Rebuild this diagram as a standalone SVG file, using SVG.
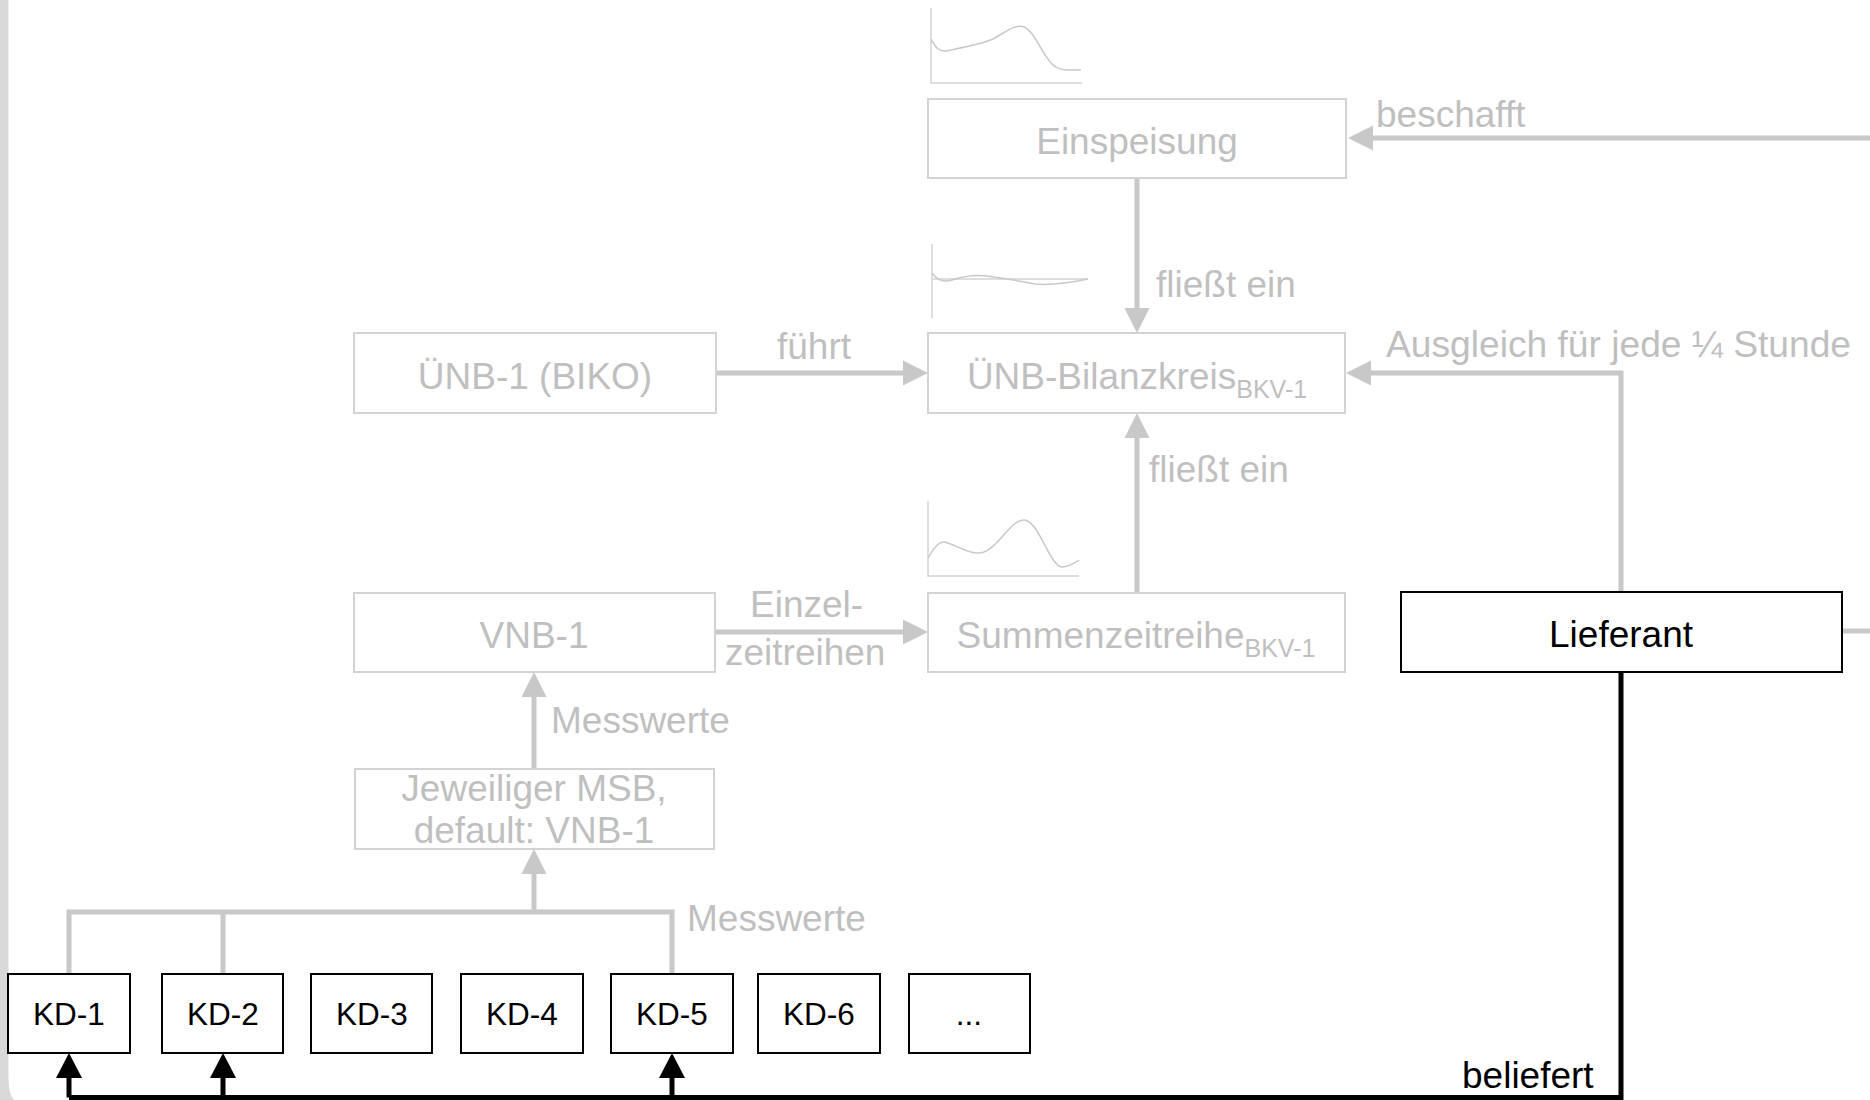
<svg xmlns="http://www.w3.org/2000/svg" width="1870" height="1100" viewBox="0 0 1870 1100">
  <style>
    text { font-family: "Liberation Sans", Arial, Helvetica, sans-serif; font-size: 37px; }
    .g { fill: #bfbfbf; }
    .k { fill: #000000; }
    .mid { text-anchor: middle; }
    .kd { font-size: 31.5px; }
    .sub { font-size: 25px; }
    .box-g { fill: #ffffff; stroke: #d3d3d3; stroke-width: 2; }
    .box-k { fill: #ffffff; stroke: #000000; stroke-width: 2; }
    .ln-g { fill: none; stroke: #c8c8c8; stroke-width: 5; }
    .ln-k { fill: none; stroke: #000000; stroke-width: 5; }
    .axis { fill: none; stroke: #d3d3d3; stroke-width: 1.5; }
    .curve { fill: none; stroke: #c8c8c8; stroke-width: 1.5; }
  </style>
  <defs>
    <marker id="arrow-g" markerUnits="userSpaceOnUse" markerWidth="26" markerHeight="26" refX="0" refY="12.5" orient="auto" overflow="visible">
      <path d="M0,0 L25,12.5 L0,25 Z" fill="#c8c8c8"/>
    </marker>
    <marker id="arrow-k" markerUnits="userSpaceOnUse" markerWidth="27" markerHeight="27" refX="0" refY="13" orient="auto" overflow="visible">
      <path d="M0,0 L25,13 L0,26 Z" fill="#000000"/>
    </marker>
  </defs>

  <!-- frame edge on the left -->
  <path d="M0,0 H8.5 V1076 C8.5,1088 10,1096 14,1100 H0 Z" fill="#d9d9d9"/>

  <!-- small load curves -->
  <g id="chart-einspeisung">
    <path class="axis" d="M931,8 V83 H1082"/>
    <path class="curve" d="M931,39 C935,46 938,52 946,51 C960,48 982,44 993,39 C1006,32 1014,24 1024,27 C1036,32 1045,62 1056,67 C1062,71 1070,70 1081,70"/>
  </g>
  <g id="chart-bilanzkreis">
    <path class="axis" d="M932,244 V318"/>
    <path class="axis" d="M932,279 H1088"/>
    <path class="curve" d="M932,273 Q940,284 952,280 Q970,274 987,276 Q1010,279 1035,284 Q1055,286 1088,279"/>
  </g>
  <g id="chart-summe">
    <path class="axis" d="M928,501 V576 H1079"/>
    <path class="curve" d="M928,558 C935,545 940,541 945,542 C958,546 972,556 984,552 C998,548 1012,518 1025,520 C1040,523 1050,568 1063,567 C1070,566 1075,563 1079,560"/>
  </g>

  <!-- connectors -->
  <g id="connectors">
    <path class="ln-g" d="M1870,138 H1373" marker-end="url(#arrow-g)"/>
    <path class="ln-g" d="M1137,178 V308" marker-end="url(#arrow-g)"/>
    <path class="ln-g" d="M716,373 H903" marker-end="url(#arrow-g)"/>
    <path class="ln-g" d="M1621,592 V373 H1371" marker-end="url(#arrow-g)"/>
    <path class="ln-g" d="M1137,593 V438" marker-end="url(#arrow-g)"/>
    <path class="ln-g" d="M715,632 H903" marker-end="url(#arrow-g)"/>
    <path class="ln-g" d="M1842,631 H1870"/>
    <path class="ln-g" d="M534,769 V697" marker-end="url(#arrow-g)"/>
    <path class="ln-g" d="M69,974 V912 H672 V974"/>
    <path class="ln-g" d="M223,974 V912"/>
    <path class="ln-g" d="M534,912 V874" marker-end="url(#arrow-g)"/>

    <path class="ln-k" d="M1621,672 V1097.5 H69"/>
    <path class="ln-k" d="M69,1097.5 V1078" marker-end="url(#arrow-k)"/>
    <path class="ln-k" d="M223,1097.5 V1078" marker-end="url(#arrow-k)"/>
    <path class="ln-k" d="M672,1097.5 V1078" marker-end="url(#arrow-k)"/>

    <text class="g" x="1376" y="127">beschafft</text>
    <text class="g" x="1156" y="297">fließt ein</text>
    <text class="g" x="777" y="359">führt</text>
    <text class="g" x="1386" y="357" textLength="465" lengthAdjust="spacingAndGlyphs">Ausgleich für jede ¼ Stunde</text>
    <text class="g" x="1149" y="482">fließt ein</text>
    <text class="g" x="750" y="617">Einzel-</text>
    <text class="g" x="725" y="665">zeitreihen</text>
    <text class="g" x="551" y="733">Messwerte</text>
    <text class="g" x="687" y="931">Messwerte</text>
    <text class="k" x="1462" y="1088">beliefert</text>
  </g>

  <!-- nodes -->
  <g id="einspeisung">
    <rect class="box-g" x="928" y="99" width="418" height="79"/>
    <text class="g mid" x="1137" y="154">Einspeisung</text>
  </g>
  <g id="uenb-1">
    <rect class="box-g" x="354" y="333" width="362" height="80"/>
    <text class="g mid" x="535" y="389">ÜNB-1 (BIKO)</text>
  </g>
  <g id="uenb-bilanzkreis">
    <rect class="box-g" x="928" y="333" width="417" height="80"/>
    <text class="g mid" x="1137" y="389">ÜNB-Bilanzkreis<tspan class="sub" dy="9">BKV-1</tspan></text>
  </g>
  <g id="vnb-1">
    <rect class="box-g" x="354" y="593" width="361" height="79"/>
    <text class="g mid" x="534" y="648">VNB-1</text>
  </g>
  <g id="summenzeitreihe">
    <rect class="box-g" x="928" y="593" width="417" height="79"/>
    <text class="g mid" x="1136" y="648">Summenzeitreihe<tspan class="sub" dy="9">BKV-1</tspan></text>
  </g>
  <g id="lieferant">
    <rect class="box-k" x="1401" y="592" width="441" height="80"/>
    <text class="k mid" x="1621" y="647">Lieferant</text>
  </g>
  <g id="msb">
    <rect class="box-g" x="355" y="769" width="359" height="80"/>
    <text class="g mid" x="534" y="801">Jeweiliger MSB,</text>
    <text class="g mid" x="534" y="843">default: VNB-1</text>
  </g>
  <g id="kd-1">
    <rect class="box-k" x="8" y="974" width="122" height="79"/>
    <text class="k mid kd" x="69" y="1025">KD-1</text>
  </g>
  <g id="kd-2">
    <rect class="box-k" x="162" y="974" width="121" height="79"/>
    <text class="k mid kd" x="223" y="1025">KD-2</text>
  </g>
  <g id="kd-3">
    <rect class="box-k" x="311" y="974" width="121" height="79"/>
    <text class="k mid kd" x="372" y="1025">KD-3</text>
  </g>
  <g id="kd-4">
    <rect class="box-k" x="461" y="974" width="122" height="79"/>
    <text class="k mid kd" x="522" y="1025">KD-4</text>
  </g>
  <g id="kd-5">
    <rect class="box-k" x="611" y="974" width="122" height="79"/>
    <text class="k mid kd" x="672" y="1025">KD-5</text>
  </g>
  <g id="kd-6">
    <rect class="box-k" x="758" y="974" width="122" height="79"/>
    <text class="k mid kd" x="819" y="1025">KD-6</text>
  </g>
  <g id="kd-more">
    <rect class="box-k" x="909" y="974" width="121" height="79"/>
    <text class="k mid kd" x="969" y="1025">...</text>
  </g>
</svg>
